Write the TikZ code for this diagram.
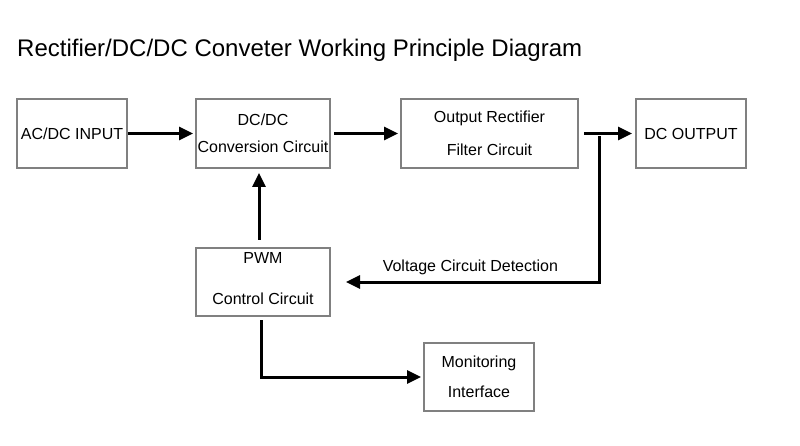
\documentclass[tikz,border=0pt]{standalone}
\usepackage{fontspec}
\setmainfont{Liberation Sans}
\usepackage{tikz}
\usetikzlibrary{arrows.meta,positioning,calc}
\usepackage{xcolor}
\definecolor{boxgray}{RGB}{128,128,128}
\definecolor{inkblack}{RGB}{0,0,0}
\tikzset{
  block/.style={rectangle, draw=boxgray, line width=2pt, fill=white,
                minimum height=69pt, align=center, inner sep=0pt,
                font=\fontsize{16}{19}\selectfont},
  arrow/.style={-{Triangle[length=14pt,width=13pt]}, line width=3pt, inkblack},
  label/.style={font=\fontsize{16}{19}\selectfont},
  heading/.style={font=\fontsize{24}{28}\selectfont, inner sep=0pt},
}
\begin{document}
\begin{tikzpicture}[x=1pt, y=-1pt]
\useasboundingbox (0,0) rectangle (800,446);
\node[heading, anchor=base west] (ttl) at (17,57) {Rectifier/DC/DC Conveter Working Principle Diagram};

\node[block, minimum width=110pt] (ain) at (72,133.5) {AC/DC INPUT};
\node[block, minimum width=134pt, right=67pt of ain] (dcdc) {DC/DC\\[8pt]Conversion Circuit};
\node[block, minimum width=177pt, right=69pt of dcdc] (ofilt) {Output Rectifier\\[14pt]Filter Circuit};
\node[block, minimum width=110pt, right=56pt of ofilt] (dcout) {DC OUTPUT};
\node[block, minimum width=134pt, minimum height=68pt, below=78pt of dcdc] (pwm) {PWM\\[22pt]Control Circuit\\[-11pt]\mbox{}};
\node[block, minimum width=110pt, minimum height=68pt, below right=25pt and 92pt of pwm] (mon) {Monitoring\\[11pt]Interface};

\coordinate (tap) at ($(ofilt.east)+(20,0)$);

\draw[arrow, shorten >=2pt] (ain) -- (dcdc);
\draw[arrow, shorten <=3pt, shorten >=2pt] (dcdc) -- (ofilt);
\draw[arrow, shorten <=5pt, shorten >=3pt] (ofilt) -- (dcout);
\draw[arrow, shorten >=15pt] ([yshift=-3pt]tap) |- (pwm.east)
  node[label, pos=0.74, anchor=base, yshift=10pt] (vdet) {Voltage Circuit Detection};
\draw[arrow, shorten <=7pt, shorten >=4pt] ([xshift=-4pt]pwm.north) -- ([xshift=-4pt]pwm.north |- dcdc.south);
\draw[arrow, shorten <=3pt, shorten >=2pt] ([xshift=-2pt]pwm.south) |- (mon.west);
\end{tikzpicture}
\end{document}
